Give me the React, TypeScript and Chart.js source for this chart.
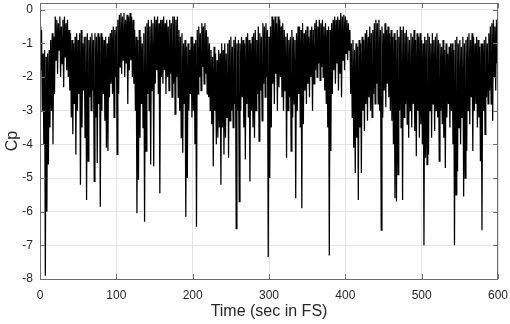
import { useEffect, useRef } from "react";
import { Chart, registerables } from "chart.js";

Chart.register(...registerables);

const xTickValues = [0, 100, 200, 300, 400, 500, 600];
const yTickValues = [0, -1, -2, -3, -4, -5, -6, -7, -8];

// upper swings, sampled at t = 0, 2, 4, ... 600 s
const peaks = [
  -0.5, -0.6, -1.3, -1.2, -1.4, -1.3, -1.2, -0.9, -0.7, -0.8,
  -0.2, -0.3, -0.4, -0.2, -0.5, -0.3, -0.2, -0.4, -0.3, -0.6,
  -0.7, -0.9, -1.0, -0.8, -0.7, -0.9, -0.7, -0.6, -1.0, -0.8,
  -0.8, -0.7, -0.9, -0.8, -0.7, -0.9, -0.7, -0.8, -0.7, -0.8,
  -0.7, -0.8, -0.9, -0.8, -1.0, -0.8, -0.7, -0.6, -0.5, -0.6,
  -0.5, -0.3, -0.15, -0.1, -0.2, -0.1, -0.3, -0.15, -0.2, -0.1,
  -0.2, -0.3, -0.6, -0.8, -0.9, -0.6, -0.8, -1.0, -0.7, -0.5,
  -0.4, -0.3, -0.5, -0.3, -0.4, -0.2, -0.3, -0.2, -0.4, -0.3,
  -0.3, -0.2, -0.4, -0.3, -0.5, -0.3, -0.4, -0.2, -0.2, -0.3,
  -0.2, -0.6, -0.8, -0.7, -1.0, -0.9, -1.1, -1.0, -1.2, -0.8,
  -0.8, -1.0, -0.9, -0.6, -0.5, -0.7, -0.4, -0.5, -0.4, -0.6,
  -0.8, -1.0, -1.2, -1.4, -1.1, -1.3, -1.5, -1.2, -1.3, -1.0,
  -1.2, -1.0, -1.3, -1.0, -0.9, -0.8, -1.1, -0.9, -0.8, -1.0,
  -0.9, -1.0, -0.8, -0.9, -1.0, -0.8, -0.7, -0.9, -1.0, -0.8,
  -0.7, -0.6, -0.9, -0.5, -0.7, -0.8, -0.4, -0.5, -0.4, -0.6,
  -0.8, -0.5, -0.2, -0.3, -0.2, -0.4, -0.2, -0.3, -0.5, -0.4,
  -0.6, -0.8, -0.7, -0.9, -0.8, -0.6, -0.8, -0.9, -0.7, -0.5,
  -0.5, -0.6, -0.4, -0.7, -0.6, -0.5, -0.8, -0.6, -0.5, -0.6,
  -0.4, -0.3, -0.5, -0.3, -0.4, -0.3, -0.5, -0.4, -0.6, -0.5,
  -0.6, -0.4, -0.3, -0.2, -0.3, -0.2, -0.3, -0.1, -0.2, -0.15,
  -0.2, -0.3, -0.4, -0.6, -1.0, -0.9, -1.2, -1.0, -1.1, -0.9,
  -1.0, -0.8, -0.9, -0.7, -0.6, -0.8, -0.5, -0.7, -0.6, -0.4,
  -0.3, -0.4, -0.3, -0.6, -0.5, -0.7, -0.4, -0.6, -0.5, -0.7,
  -0.6, -0.8, -0.7, -0.9, -0.6, -0.8, -0.5, -0.6, -0.5, -0.7,
  -0.6, -0.8, -0.9, -0.7, -0.8, -0.6, -0.9, -0.7, -0.8, -0.7,
  -0.9, -1.0, -0.8, -0.9, -0.7, -0.8, -1.0, -0.7, -0.9, -0.8,
  -0.7, -0.9, -1.0, -1.1, -0.9, -1.2, -1.0, -1.3, -1.1, -1.0,
  -1.0, -1.2, -0.9, -0.8, -1.0, -0.9, -1.1, -0.8, -1.0, -0.9,
  -0.8, -0.7, -0.9, -0.7, -0.8, -1.0, -0.8, -0.9, -1.1, -1.0,
  -1.0, -0.9, -0.8, -1.0, -0.7, -0.5, -0.4, -0.3, -0.5, -0.3,
  -0.5,
];

// lower swings, sampled at t = 1, 3, 5, ... 599 s
const troughs = [
  -1.8, -3.0, -4.0, -7.9, -6.0, -4.6, -3.5, -3.0, -4.0, -2.5,
  -1.5, -1.9, -1.2, -2.0, -1.6, -2.3, -1.4, -1.8, -2.0, -2.4,
  -3.2, -3.7, -2.8, -4.3, -3.0, -2.5, -5.2, -3.5, -2.4, -3.8,
  -5.65, -4.5, -2.6, -3.0, -2.4, -5.1, -3.2, -4.55, -2.8, -5.85,
  -3.0, -2.5, -3.3, -4.1, -4.2, -2.6, -2.2, -2.5, -3.2, -2.0,
  -4.3, -2.5, -1.7, -1.9, -1.5, -2.0, -1.6, -2.8, -1.8, -1.5,
  -2.0, -2.2, -3.0, -6.05, -5.05, -3.8, -2.8, -3.5, -6.3, -4.2,
  -2.5, -3.0, -4.6, -2.4, -4.65, -2.2, -1.8, -2.5, -5.45, -2.0,
  -2.2, -1.8, -2.5, -2.0, -2.4, -1.9, -2.6, -2.2, -3.1, -2.0,
  -2.6, -3.0, -3.8, -4.25, -2.8, -6.15, -5.0, -3.0, -2.5, -3.2,
  -3.0, -4.0, -6.45, -2.5, -2.0, -2.4, -1.7, -2.2, -1.9, -2.5,
  -2.6, -3.0, -3.4, -4.65, -3.0, -4.0, -3.8, -3.5, -5.2, -3.5,
  -4.3, -3.8, -3.2, -4.4, -3.3, -3.0, -3.5, -2.8, -6.5, -3.0,
  -5.7, -3.0, -2.6, -3.5, -4.45, -2.8, -3.2, -5.1, -3.0, -3.5,
  -3.8, -3.0, -2.5, -3.9, -2.4, -3.3, -2.2, -2.6, -2.0, -7.35,
  -5.0, -3.5, -2.2, -2.8, -1.9, -3.0, -2.3, -2.0, -2.6, -3.0,
  -2.4, -4.4, -3.0, -2.6, -4.2, -3.2, -2.8, -5.6, -3.0, -2.5,
  -3.5, -5.9, -3.4, -2.4, -2.8, -2.2, -2.6, -2.0, -3.0, -2.2,
  -1.8, -2.0, -1.6, -2.1, -1.7, -2.0, -2.4, -2.8, -3.5, -7.3,
  -4.2, -2.5, -1.8, -2.2, -1.6, -2.4, -1.9, -2.6, -1.5, -1.8,
  -1.3, -1.5, -1.2, -2.5, -3.2, -4.1, -4.85, -3.8, -5.65, -3.5,
  -4.85, -3.0, -3.6, -2.8, -3.3, -2.6, -3.0, -3.2, -2.5, -2.8,
  -2.2, -2.8, -3.0, -6.55, -3.2, -2.4, -2.9, -2.2, -2.6, -3.0,
  -3.3, -4.0, -5.6, -5.7, -4.9, -3.0, -3.5, -5.65, -3.2, -2.8,
  -3.4, -3.8, -3.0, -3.5, -2.8, -3.6, -4.35, -3.0, -3.8, -3.4,
  -4.0, -7.0, -4.4, -4.6, -4.3, -3.0, -3.8, -2.8, -3.6, -3.0,
  -3.2, -4.5, -3.0, -3.4, -3.8, -4.7, -3.2, -2.8, -3.5, -3.0,
  -4.0, -7.0, -5.5, -4.8, -3.5, -4.0, -3.2, -5.55, -5.0, -4.2,
  -3.0, -3.4, -2.6, -4.2, -3.0, -2.8, -3.5, -3.2, -4.5, -6.55,
  -3.0, -3.7, -2.6, -2.8, -2.4, -2.8, -3.3, -2.0, -2.4, -1.6,
];

const FONT = "'Liberation Sans', Arial, Helvetica, sans-serif";
const TEXT = "#262626";
const AXIS = "#6e6e6e";
const GRID = "#e4e4e4";

function buildPoints() {
  const pts: { x: number; y: number }[] = [];
  for (let i = 0; i < peaks.length; i++) {
    pts.push({ x: 2 * i, y: peaks[i] });
    if (i < troughs.length) pts.push({ x: 2 * i + 1, y: troughs[i] });
  }
  return pts;
}

const boxPlugin = {
  id: "matlabBox",
  afterDatasetsDraw(chart: any) {
    const { ctx, chartArea: a, scales } = chart;
    ctx.save();
    ctx.strokeStyle = AXIS;
    ctx.lineWidth = 1;
    ctx.beginPath();
    const tl = 5;
    xTickValues.forEach((v) => {
      const px = Math.round(scales.x.getPixelForValue(v)) + 0.5;
      ctx.moveTo(px, a.bottom);
      ctx.lineTo(px, a.bottom - tl);
      ctx.moveTo(px, a.top);
      ctx.lineTo(px, a.top + tl);
    });
    yTickValues.forEach((v) => {
      const py = Math.round(scales.y.getPixelForValue(v)) + 0.5;
      ctx.moveTo(a.left, py);
      ctx.lineTo(a.left + tl, py);
      ctx.moveTo(a.right, py);
      ctx.lineTo(a.right - tl, py);
    });
    ctx.stroke();
    ctx.strokeRect(
      Math.round(a.left) + 0.5,
      Math.round(a.top) + 0.5,
      Math.round(a.right) - Math.round(a.left) - 1,
      Math.round(a.bottom) - Math.round(a.top)
    );
    ctx.restore();
  },
};

export default function App() {
  const ref = useRef<HTMLCanvasElement | null>(null);

  useEffect(() => {
    if (!ref.current) return;
    const chart = new Chart(ref.current, {
      type: "line",
      data: {
        datasets: [
          {
            data: buildPoints(),
            borderColor: "#000000",
            borderWidth: 1.25,
            pointRadius: 0,
            tension: 0,
            fill: false,
          },
        ],
      },
      options: {
        responsive: false,
        animation: false,
        events: [],
        layout: { padding: { top: 3, right: 12, left: 0, bottom: 0 } },
        plugins: { legend: { display: false }, tooltip: { enabled: false } },
        scales: {
          x: {
            type: "linear",
            min: 0,
            max: 600,
            afterBuildTicks: (s: any) => {
              s.ticks = xTickValues.map((v) => ({ value: v }));
            },
            afterFit: (s: any) => {
              s.height = 45;
              s.paddingLeft = 0;
              s.paddingRight = 0;
            },
            border: { display: false },
            grid: { color: GRID, drawTicks: false },
            ticks: {
              font: { family: FONT, size: 12 },
              color: TEXT,
              padding: 9,
              maxRotation: 0,
              autoSkip: false,
            },
            title: {
              display: true,
              text: "Time (sec in FS)",
              font: { family: FONT, size: 16 },
              color: TEXT,
              padding: { top: 0, bottom: 3 },
            },
          },
          y: {
            type: "linear",
            min: -8,
            max: 0.2,
            afterBuildTicks: (s: any) => {
              s.ticks = yTickValues.map((v) => ({ value: v }));
            },
            afterFit: (s: any) => {
              s.width = 40;
              s.paddingTop = 0;
              s.paddingBottom = 0;
            },
            border: { display: false },
            grid: { color: GRID, drawTicks: false },
            ticks: {
              font: { family: FONT, size: 12 },
              color: TEXT,
              padding: 7,
              autoSkip: false,
            },
            title: {
              display: true,
              text: "Cp",
              font: { family: FONT, size: 16 },
              color: TEXT,
              padding: { top: 3, bottom: 0 },
            },
          },
        },
      },
      plugins: [boxPlugin],
    });
    return () => chart.destroy();
  }, []);

  return (
    <div style={{ position: "absolute", left: 0, top: 0, width: 510, height: 324, background: "#ffffff" }}>
      <canvas ref={ref} width={510} height={324} style={{ display: "block" }} />
    </div>
  );
}
